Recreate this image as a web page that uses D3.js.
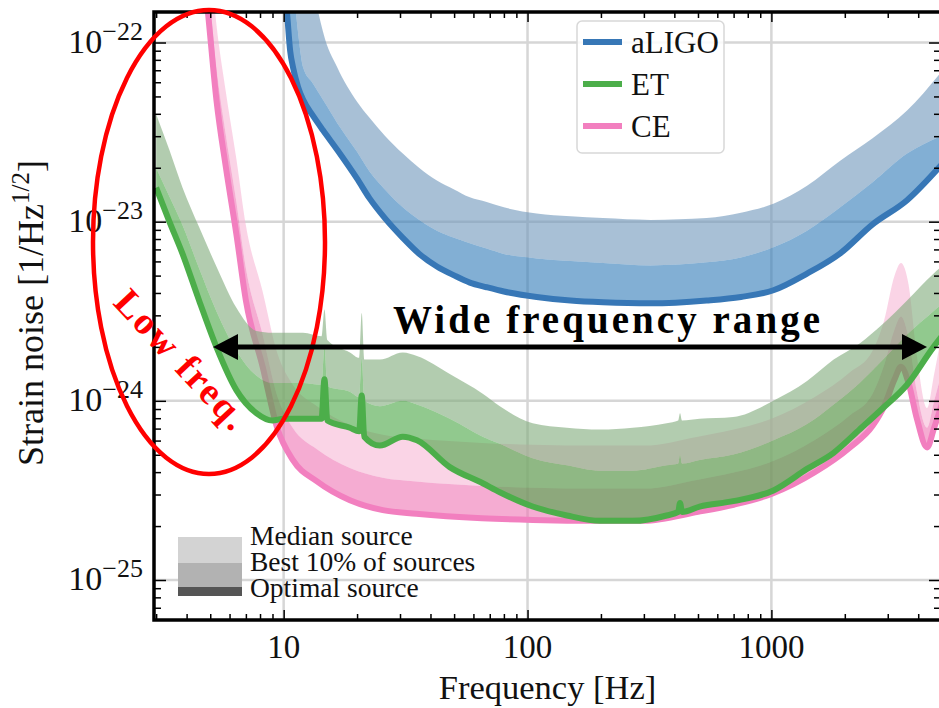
<!DOCTYPE html>
<html><head><meta charset="utf-8">
<script src="https://cdn.jsdelivr.net/npm/d3@7"></script>
<style>body{margin:0;background:#fff}svg{display:block}</style>
</head><body><svg id="c" width="939" height="708"></svg>
<script>
// ---- axes extents and ticks ----
const xDomain = [2.94, 4960];
const yDomain = [5.98e-26, 1.48e-22];
const xTicks = [10, 100, 1000];
const xTickLabels = ["10", "100", "1000"];
const yTicks = [1e-22, 1e-23, 1e-24, 1e-25];
const yTickExps = ["\u221222", "\u221223", "\u221224", "\u221225"];

// ---- aLIGO (log10 strain) ----
const ligoFreq    = [9.6, 10, 10.33, 10.63, 10.93, 11.47, 12.02, 13.2, 14.5, 16.6, 20, 22.5, 26, 30.8, 36, 42.5, 50, 58, 68, 80, 109, 150, 204, 319, 543, 750, 1019, 1400, 1915, 2600, 3600, 5000];
const ligoOptimal = [-21.3, -21.64, -21.84, -22.045, -22.14, -22.25, -22.32, -22.41, -22.49, -22.60, -22.76, -22.87, -22.98, -23.09, -23.18, -23.25, -23.30, -23.34, -23.366, -23.39, -23.42, -23.44, -23.45, -23.456, -23.44, -23.42, -23.383, -23.29, -23.177, -23.015, -22.88, -22.68];
const ligoBest10  = [-20.9, -21.1, -21.3, -21.48, -21.66, -21.95, -22.14, -22.23, -22.32, -22.45, -22.61, -22.72, -22.82, -22.92, -22.99, -23.05, -23.09, -23.12, -23.15, -23.18, -23.205, -23.22, -23.23, -23.244, -23.227, -23.20, -23.143, -23.05, -22.92, -22.78, -22.62, -22.52];
const ligoMedian  = [-19.5, -19.8, -20.0, -20.2, -20.4, -20.75, -21.1, -21.66, -21.94, -22.14, -22.33, -22.42, -22.52, -22.62, -22.70, -22.77, -22.82, -22.864, -22.89, -22.92, -22.954, -22.97, -22.98, -22.99, -22.98, -22.95, -22.90, -22.80, -22.66, -22.535, -22.38, -22.16];

// ---- ET ----
const etFreq    = [3, 3.4, 3.85, 4.5, 5.3, 6.4, 7.75, 9, 10, 12, 14.3, 14.7, 15.1, 18.7, 20.4, 20.9, 21.4, 24.8, 30.8, 35.2, 48, 65.5, 77, 105, 145, 198, 270, 372, 415, 422, 430, 508, 697, 1019, 1400, 1800, 2300, 2870, 3600, 4620, 5000];
const etOptimal = [-22.81, -23.00, -23.18, -23.44, -23.70, -23.94, -24.07, -24.11, -24.10, -24.10, -24.10, -23.88, -24.11, -24.15, -24.17, -23.97, -24.20, -24.25, -24.20, -24.22, -24.37, -24.46, -24.51, -24.59, -24.64, -24.67, -24.67, -24.64, -24.62, -24.57, -24.62, -24.59, -24.56, -24.50, -24.38, -24.29, -24.16, -24.04, -23.91, -23.70, -23.64];
const etBest10  = [-22.70, -22.86, -23.02, -23.26, -23.50, -23.72, -23.86, -23.90, -23.90, -23.90, -23.91, -23.70, -23.92, -23.95, -23.98, -23.76, -24.00, -24.03, -24.00, -24.02, -24.10, -24.20, -24.24, -24.32, -24.36, -24.39, -24.39, -24.36, -24.35, -24.30, -24.35, -24.33, -24.30, -24.22, -24.13, -24.02, -23.90, -23.77, -23.63, -23.50, -23.46];
const etMedian  = [-22.40, -22.60, -22.81, -23.03, -23.25, -23.48, -23.61, -23.62, -23.62, -23.62, -23.64, -23.49, -23.66, -23.73, -23.76, -23.51, -23.77, -23.77, -23.73, -23.75, -23.85, -23.96, -24.03, -24.125, -24.15, -24.16, -24.15, -24.125, -24.11, -24.07, -24.11, -24.10, -24.09, -24.00, -23.89, -23.77, -23.68, -23.57, -23.44, -23.29, -23.25];

// ---- CE ----
const ceFreq    = [4.5, 4.9, 5.3, 5.8, 6.4, 7.0, 8.2, 9.4, 10.9, 13.7, 18.7, 25.5, 35, 65, 105, 200, 300, 500, 700, 1000, 1500, 2100, 2600, 2900, 3200, 3400, 3650, 3950, 4350, 4650, 5000];
const ceOptimal = [-21.35, -21.84, -22.32, -22.70, -23.07, -23.44, -23.81, -24.15, -24.33, -24.45, -24.555, -24.61, -24.63, -24.655, -24.665, -24.67, -24.67, -24.62, -24.58, -24.52, -24.40, -24.26, -24.14, -24.03, -23.88, -23.81, -23.90, -24.10, -24.26, -24.15, -24.02];
const ceBest10  = [-21.17, -21.66, -22.14, -22.52, -22.89, -23.26, -23.63, -23.97, -24.15, -24.27, -24.375, -24.43, -24.45, -24.475, -24.485, -24.49, -24.49, -24.44, -24.40, -24.34, -24.22, -24.08, -23.96, -23.80, -23.60, -23.53, -23.65, -23.95, -24.15, -24.00, -23.84];
const ceMedian  = [-20.93, -21.42, -21.90, -22.28, -22.65, -23.02, -23.39, -23.73, -23.91, -24.03, -24.135, -24.19, -24.21, -24.235, -24.245, -24.25, -24.25, -24.20, -24.16, -24.10, -23.98, -23.84, -23.72, -23.55, -23.30, -23.23, -23.35, -23.75, -24.04, -23.85, -23.62];

const legendNames = ["aLIGO", "ET", "CE"];
const sourceLabels = ["Median source", "Best 10% of sources", "Optimal source"];

// ---- layout ----
const L = 154, R = 941, T = 12, B = 620;
const FONT = "'Liberation Serif', 'Times New Roman', 'DejaVu Serif', serif";
const svg = d3.select("#c").style("font-family", FONT);
const x = d3.scaleLog().domain(xDomain).range([L, R]);
const y = d3.scaleLog().domain(yDomain).range([B, T]);

svg.append("defs").append("clipPath").attr("id", "clip")
  .append("rect").attr("x", L).attr("y", T).attr("width", R - L).attr("height", B - T);

// grid
const grid = svg.append("g");
grid.selectAll("line.gx").data(xTicks).join("line")
  .attr("x1", d => x(d)).attr("x2", d => x(d)).attr("y1", T).attr("y2", B)
  .attr("stroke", "#d6d6d6").attr("stroke-width", 2.5);
grid.selectAll("line.gy").data(yTicks).join("line")
  .attr("y1", d => y(d)).attr("y2", d => y(d)).attr("x1", L).attr("x2", R)
  .attr("stroke", "#d6d6d6").attr("stroke-width", 2.5);

const plot = svg.append("g").attr("clip-path", "url(#clip)");

function detector(freq, opt, b10, med, cMed, cB10, cLine, op) {
  const data = freq.map((f, i) => ({f, o: 10 ** opt[i], b: 10 ** b10[i], m: 10 ** med[i]}));
  const curve = d3.curveMonotoneX;
  const g = plot.append("g");
  g.append("path").datum(data)
    .attr("d", d3.area().curve(curve).x(d => x(d.f)).y0(d => y(d.b)).y1(d => y(d.m)))
    .attr("fill", cMed).attr("fill-opacity", op);
  g.append("path").datum(data)
    .attr("d", d3.area().curve(curve).x(d => x(d.f)).y0(d => y(d.o)).y1(d => y(d.b)))
    .attr("fill", cB10).attr("fill-opacity", op);
  g.append("path").datum(data)
    .attr("d", d3.line().curve(curve).x(d => x(d.f)).y(d => y(d.o)))
    .attr("fill", "none").attr("stroke", cLine).attr("stroke-width", 6).attr("stroke-linejoin", "round");
}
detector(ligoFreq, ligoOptimal, ligoBest10, ligoMedian, "rgb(110,150,187)", "rgb(47,122,183)", "#3777b6", 0.6);
detector(ceFreq, ceOptimal, ceBest10, ceMedian, "rgb(247,183,213)", "rgb(238,117,180)", "#f27fbf", 0.6);
detector(etFreq, etOptimal, etBest10, etMedian, "rgb(127,170,122)", "rgb(72,165,66)", "#4cae4a", 0.6);

// ticks (inward, all four sides)
const minorX = [];
for (let e = 0; e <= 3; e++) for (let k = 2; k <= 9; k++) { const v = k * 10 ** e; if (v > xDomain[0] && v < xDomain[1]) minorX.push(v); }
const minorY = [];
for (let e = -26; e <= -22; e++) for (let k = 2; k <= 9; k++) { const v = k * 10 ** e; if (v > yDomain[0] && v < yDomain[1]) minorY.push(v); }
function ticks(axisFn, scale, vals, size, tr) {
  svg.append("g").attr("transform", tr)
    .call(axisFn(scale).tickValues(vals).tickSize(size).tickSizeOuter(0).tickFormat(""))
    .call(g => { g.select(".domain").remove(); g.selectAll("line").attr("stroke", "#000").attr("stroke-width", 1.5); });
}
ticks(d3.axisBottom, x, xTicks, -10, `translate(0,${B})`);
ticks(d3.axisBottom, x, minorX, -6, `translate(0,${B})`);
ticks(d3.axisTop, x, xTicks, -10, `translate(0,${T})`);
ticks(d3.axisTop, x, minorX, -6, `translate(0,${T})`);
ticks(d3.axisLeft, y, yTicks, -12, `translate(${L},0)`);
ticks(d3.axisLeft, y, minorY, -7, `translate(${L},0)`);
ticks(d3.axisRight, y, yTicks, -12, `translate(${R},0)`);
ticks(d3.axisRight, y, minorY, -7, `translate(${R},0)`);

// frame
svg.append("rect").attr("x", L).attr("y", T).attr("width", R - L).attr("height", B - T)
  .attr("fill", "none").attr("stroke", "#000").attr("stroke-width", 3.5);

// tick labels
svg.selectAll("text.xl").data(xTicks).join("text")
  .attr("x", d => x(d)).attr("y", 658).attr("text-anchor", "middle")
  .attr("font-size", 33).attr("fill", "#111").text((d, i) => xTickLabels[i]);
const yl = svg.selectAll("text.yl").data(yTicks).join("text")
  .attr("x", 143).attr("y", d => y(d) + 10).attr("text-anchor", "end").attr("font-size", 34).attr("fill", "#111");
yl.append("tspan").text("10");
yl.append("tspan").attr("dy", -13).attr("font-size", 26).text((d, i) => yTickExps[i]);

// axis titles
svg.append("text").attr("x", (L + R) / 2).attr("y", 699).attr("text-anchor", "middle")
  .attr("font-size", 34.5).attr("fill", "#111").text("Frequency [Hz]");
const yt = svg.append("text").attr("transform", "translate(43,313) rotate(-90)")
  .attr("text-anchor", "middle").attr("font-size", 36).attr("fill", "#111");
yt.append("tspan").text("Strain noise [1/Hz");
yt.append("tspan").attr("dy", -14).attr("font-size", 25).text("1/2");
yt.append("tspan").attr("dy", 14).text("]");

// legend (detectors)
const lg = svg.append("g");
lg.append("rect").attr("x", 577).attr("y", 21).attr("width", 147).attr("height", 132).attr("rx", 5)
  .attr("fill", "#fff").attr("fill-opacity", 0.85).attr("stroke", "#d8d8d8").attr("stroke-width", 1.5);
const legendColors = ["#3777b6", "#4cae4a", "#f27fbf"];
legendNames.forEach((n, i) => {
  const yy = 42 + i * 42;
  lg.append("line").attr("x1", 583).attr("x2", 622).attr("y1", yy).attr("y2", yy)
    .attr("stroke", legendColors[i]).attr("stroke-width", 6);
  lg.append("text").attr("x", 631).attr("y", yy + 11).attr("font-size", 31).attr("fill", "#111").text(n);
});

// legend (sources)
const sg = svg.append("g");
sg.append("rect").attr("x", 178).attr("y", 537).attr("width", 64).attr("height", 27).attr("fill", "#d3d3d3");
sg.append("rect").attr("x", 178).attr("y", 563).attr("width", 64).attr("height", 24).attr("fill", "#b2b2b2");
sg.append("rect").attr("x", 178).attr("y", 587).attr("width", 64).attr("height", 9).attr("fill", "#555");
sourceLabels.forEach((t, i) => {
  sg.append("text").attr("x", 250).attr("y", 545 + i * 26).attr("font-size", 27.5).attr("fill", "#111").text(t);
});

// annotations
const an = svg.append("g");
an.append("ellipse").attr("cx", 209).attr("cy", 242).attr("rx", 116).attr("ry", 232)
  .attr("fill", "none").attr("stroke", "#ff0000").attr("stroke-width", 4.5);
an.append("text").attr("transform", "translate(172,368) rotate(47)").attr("text-anchor", "middle")
  .attr("font-size", 38).attr("font-weight", "bold").attr("fill", "#ff0000")
  .attr("textLength", 176).attr("lengthAdjust", "spacing").text("Low freq.");
an.append("line").attr("x1", 232).attr("x2", 908).attr("y1", 347).attr("y2", 347)
  .attr("stroke", "#000").attr("stroke-width", 5);
an.append("path").attr("d", "M213,347 L238,334 L238,360 Z").attr("fill", "#000");
an.append("path").attr("d", "M927,347 L902,334 L902,360 Z").attr("fill", "#000");
an.append("text").attr("x", 393).attr("y", 333).attr("font-size", 39).attr("font-weight", "bold").attr("fill", "#000")
  .attr("textLength", 427).attr("lengthAdjust", "spacing").text("Wide frequency range");
</script></body></html>
